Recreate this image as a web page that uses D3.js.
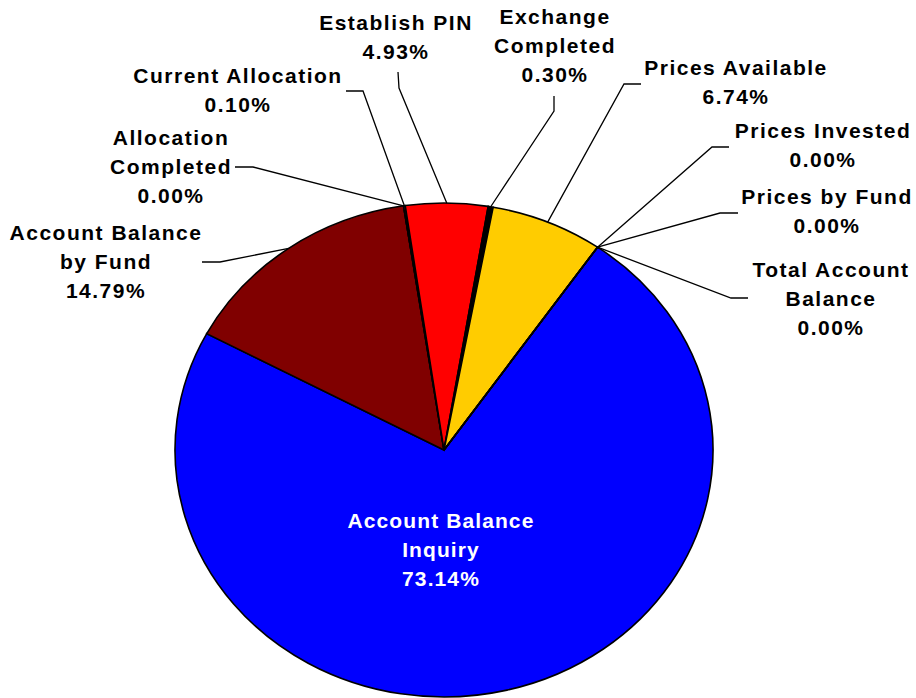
<!DOCTYPE html>
<meta charset="utf-8">
<style>
body {
  margin: 0;
  background: #fff;
}
text {
  font-family: "Liberation Sans", Arial, Helvetica, sans-serif;
  font-weight: bold;
  font-size: 21px;
  letter-spacing: 1.5px;
}
text.inside {
  letter-spacing: 1.1px;
}
.slice {
  stroke: #000;
  stroke-width: 1.6;
  vector-effect: non-scaling-stroke;
}
.leader {
  fill: none;
  stroke: #000;
  stroke-width: 1.3;
}
</style>
<body>
<script src="https://cdn.jsdelivr.net/npm/d3@7/dist/d3.min.js"></script>
<script>

var width = 916,
    height = 698;

// data, clockwise from the first slice
var categories = [
  "Account Balance Inquiry", "Account Balance by Fund", "Allocation Completed",
  "Current Allocation", "Establish PIN", "Exchange Completed", "Prices Available",
  "Prices Invested", "Prices by Fund", "Total Account Balance"
];
var shares = [73.14, 14.79, 0.00, 0.10, 4.93, 0.30, 6.74, 0.00, 0.00, 0.00];

// how each label breaks into lines
var labelLines = [
  ["Account Balance", "Inquiry"],
  ["Account Balance", "by Fund"],
  ["Allocation", "Completed"],
  ["Current Allocation"],
  ["Establish PIN"],
  ["Exchange", "Completed"],
  ["Prices Available"],
  ["Prices Invested"],
  ["Prices by Fund"],
  ["Total Account", "Balance"]
];

var colors = ["#0000ff", "#800000", "#9999ff", "#ff00ff", "#ff0000",
              "#000000", "#ffcc00", "#00ffff", "#800080", "#008080"];

// label layout (centre x, first baseline) and leader start / elbow
var labelPos = [
  [441, 528], [106, 240], [171, 145], [238, 83], [396, 30],
  [555, 24], [736, 75], [823, 138], [827, 204], [831, 277]
];
var leaders = [
  null,
  [[202, 262], [220, 262]],
  [[235, 167], [253, 167]],
  [[346, 91], [363, 91]],
  [[398, 72], [399, 88]],
  [[554, 96], [554, 111]],
  [[641, 84], [624, 84]],
  [[729, 147], [712, 147]],
  [[738, 213], [720, 213]],
  [[748, 298], [731, 298]]
];

var cx = 444, cy = 450, rx = 269, ry = 247;
var a0 = 34.8 * Math.PI / 180;
var lineH = 28.8;

var pie = d3.pie()
  .sort(null)
  .value(function(d) { return d; })
  .startAngle(a0)
  .endAngle(a0 + 2 * Math.PI);

var arcs = pie(shares);

var arc = d3.arc()
  .innerRadius(0)
  .outerRadius(ry);

var fmt = d3.format(".2f");

var svg = d3.select("body").append("svg")
    .attr("width", width)
    .attr("height", height);

svg.append("g")
    .attr("transform", "translate(" + cx + "," + cy + ")scale(" + (rx / ry) + ",1)")
  .selectAll("path")
  .data(arcs)
  .enter().append("path")
    .attr("class", "slice")
    .attr("d", arc)
    .style("fill", function(d, i) { return colors[i]; });

function edgePoint(d) {
  var a = (d.startAngle + d.endAngle) / 2;
  return [cx + rx * Math.sin(a), cy - ry * Math.cos(a)];
}

var line = d3.line();

svg.selectAll(".leader")
  .data(arcs.filter(function(d, i) { return leaders[i]; }))
  .enter().append("path")
    .attr("class", "leader")
    .attr("d", function(d) {
      var l = leaders[d.index];
      return line([l[0], l[1], edgePoint(d)]);
    });

var labels = svg.selectAll(".label")
  .data(arcs)
  .enter().append("text")
    .attr("class", function(d, i) { return i === 0 ? "label inside" : "label"; })
    .attr("text-anchor", "middle")
    .style("fill", function(d, i) { return i === 0 ? "#fff" : "#000"; });

labels.each(function(d, i) {
  var t = d3.select(this);
  var lines = labelLines[i].concat([fmt(shares[i]) + "%"]);
  lines.forEach(function(s, k) {
    t.append("tspan")
      .attr("x", labelPos[i][0])
      .attr("y", labelPos[i][1] + k * lineH)
      .text(s);
  });
});

</script>
